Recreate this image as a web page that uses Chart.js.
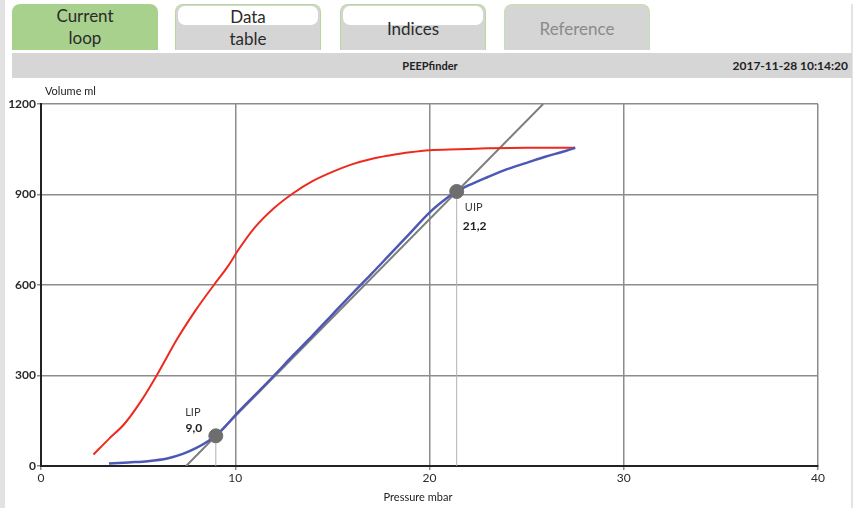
<!DOCTYPE html>
<html>
<head>
<meta charset="utf-8">
<script src="https://cdn.jsdelivr.net/npm/chart.js@4"></script>
<style>
  html, body { margin: 0; padding: 0; background: #fff; }
  body { width: 859px; height: 508px; position: relative; overflow: hidden; font-family: Lato, "Open Sans", sans-serif; }
  .strip { position: absolute; left: 0; top: 0; width: 5px; height: 508px; background: #e2e2e2; }
  .rborder { position: absolute; left: 851px; top: 4px; width: 2px; height: 504px; background: #e4e4e4; }
  .tab { position: absolute; top: 4px; height: 46px; width: 146px; box-sizing: border-box;
         border-radius: 8px 8px 0 0; text-align: center; color: #2b2b2b; font-size: 17px; line-height: 22px; }
  .tab.on { background: #a9d18e; }
  .tab.off { background: #d5d5d5; border: 1.5px solid #b5d99a; border-bottom: none; }
  .tab.off .hl { position: absolute; left: 2px; right: 2px; top: 1px; height: 19px; background: #fff; border-radius: 7px; }
  .bar { position: absolute; left: 12px; top: 53px; width: 840px; height: 25px; background: #d6d6d6; font-size: 11px; font-weight: bold; color: #222; }
  #chartWrap { position: absolute; left: 0; top: 80px; width: 859px; height: 428px; }
</style>
</head>
<body>
<div class="strip"></div>
<div class="rborder"></div>
<div class="tab on" style="left:12px;"><div style="padding-top:1px">Current<br>loop</div></div>
<div class="tab off" style="left:175px;"><div class="hl"></div><div style="padding-top:1px;position:relative">Data<br>table</div></div>
<div class="tab off" style="left:340px;"><div class="hl"></div><div style="padding-top:13px;position:relative">Indices</div></div>
<div class="tab off" style="left:504px; border-color:#c4e0ac;"><div style="padding-top:13px;color:#8a8a8a">Reference</div></div>
<div class="bar">
  <div style="position:absolute;left:0;width:840px;top:6px;text-align:center;padding-right:4px;box-sizing:border-box">PEEPfinder</div>
  <div style="position:absolute;right:4px;top:5px;font-size:12px">2017-11-28 10:14:20</div>
</div>
<div id="chartWrap"><canvas id="pv" width="859" height="428"></canvas></div>
<script>
// inflation limb (red) - pressure mbar / volume ml
const redP = [2.7, 3.5, 4.3, 5.2, 6.0, 7.0, 8.0, 8.9, 9.6, 10.2, 11.0, 12.0, 13.0, 14.0, 15.0, 16.0, 17.0, 18.0, 19.0, 20.0, 21.5, 23.0, 25.0, 27.5];
const redV = [38, 90, 140, 220, 305, 420, 520, 600, 660, 720, 790, 855, 905, 945, 975, 1000, 1018, 1030, 1040, 1047, 1050, 1053, 1055, 1055];

// low flow limb (blue)
const blueP = [3.5, 4.5, 5.5, 6.5, 7.3, 8.0, 8.6, 9.0, 9.5, 10.0, 11.0, 12.0, 13.0, 14.0, 15.0, 16.0, 17.0, 18.0, 19.0, 20.0, 21.0, 21.4, 22.0, 23.0, 24.0, 25.0, 26.0, 27.0, 27.5];
const blueV = [8, 12, 16, 25, 40, 60, 82, 100, 132, 168, 234, 300, 368, 434, 502, 570, 636, 704, 772, 840, 893, 910, 930, 958, 984, 1005, 1026, 1044, 1055];

// regression line through LIP and UIP
const fitP = [7.47, 25.85];
const fitV = [0, 1200];

// marker position as drawn, label as printed
const markers = [
  { name: 'LIP', value: '9,0', p: 9.0, v: 100 },
  { name: 'UIP', value: '21,2', p: 21.4, v: 910 }
];

const xTicks = [0, 10, 20, 30, 40];
const yTicks = [0, 300, 600, 900, 1200];

const pts = (xs, ys) => xs.map((x, i) => ({ x: x, y: ys[i] }));

const markerLabels = {
  id: 'markerLabels',
  afterDatasetsDraw(chart) {
    const c = chart.ctx, xs = chart.scales.x, ys = chart.scales.y;
    c.save();
    c.textAlign = 'center';
    c.textBaseline = 'middle';
    markers.forEach((m, i) => {
      const px = xs.getPixelForValue(m.p), py = ys.getPixelForValue(m.v);
      const dx = i === 0 ? -23 : 17, dy1 = i === 0 ? -23 : 16, dy2 = i === 0 ? -8 : 35;
      c.fillStyle = '#3a3a3a';
      c.font = '11px Lato, "Open Sans", sans-serif';
      c.fillText(m.name, px + dx, py + dy1);
      c.font = 'bold 12px Lato, "Open Sans", sans-serif';
      c.fillStyle = '#222';
      c.fillText(m.value, px + dx + 1, py + dy2);
    });
    // axis titles
    c.font = '11px Lato, "Open Sans", sans-serif';
    c.fillStyle = '#222';
    c.textAlign = 'left';
    c.fillText('Volume ml', 45, 11);
    c.textAlign = 'center';
    c.fillText('Pressure mbar', 418, 417);
    c.restore();
  }
};

new Chart(document.getElementById('pv'), {
  type: 'scatter',
  data: {
    datasets: [
      {
        data: markers.map(m => ({ x: m.p, y: m.v })),
        pointRadius: 7, pointBackgroundColor: '#6e6e6e', pointBorderColor: '#6e6e6e', showLine: false
      },
      {
        data: pts(blueP, blueV), showLine: true, borderColor: '#4c58b4', borderWidth: 2.5,
        pointRadius: 0, cubicInterpolationMode: 'monotone'
      },
      {
        data: pts(redP, redV), showLine: true, borderColor: '#ee2a1e', borderWidth: 2,
        pointRadius: 0, cubicInterpolationMode: 'monotone'
      },
      {
        data: pts(fitP, fitV), showLine: true, borderColor: '#7d7d7d', borderWidth: 2, pointRadius: 0
      },
      {
        data: [{ x: markers[0].p, y: 0 }, { x: markers[0].p, y: markers[0].v }], showLine: true,
        borderColor: '#b0b0b0', borderWidth: 1, pointRadius: 0
      },
      {
        data: [{ x: markers[1].p, y: 0 }, { x: markers[1].p, y: markers[1].v }], showLine: true,
        borderColor: '#b0b0b0', borderWidth: 1, pointRadius: 0
      }
    ]
  },
  options: {
    responsive: false,
    animation: false,
    layout: { padding: { top: 24, right: 41, left: 0, bottom: 0 } },
    plugins: { legend: { display: false }, tooltip: { enabled: false } },
    scales: {
      x: {
        type: 'linear', min: 0, max: 40,
        afterFit: s => { s.height = 42; },
        afterBuildTicks: s => { s.ticks = xTicks.map(v => ({ value: v })); },
        ticks: { color: '#2a2a2a', font: { size: 12, family: 'Lato' }, padding: 1, maxRotation: 0,
                 callback: v => String(v) },
        grid: { color: '#8c8c8c', lineWidth: 1.5, tickLength: 4, tickColor: '#8c8c8c' },
        border: { color: '#222', width: 2 }
      },
      y: {
        type: 'linear', min: 0, max: 1200,
        afterFit: s => { s.width = 41; },
        afterBuildTicks: s => { s.ticks = yTicks.map(v => ({ value: v })); },
        ticks: { color: '#2a2a2a', font: { size: 12, weight: 'bold', family: 'Lato' }, padding: 1,
                 callback: v => String(v) },
        grid: { color: '#8c8c8c', lineWidth: 1.5, tickLength: 4, tickColor: '#8c8c8c' },
        border: { color: '#222', width: 2 }
      }
    }
  },
  plugins: [markerLabels]
});
</script>
</body>
</html>
